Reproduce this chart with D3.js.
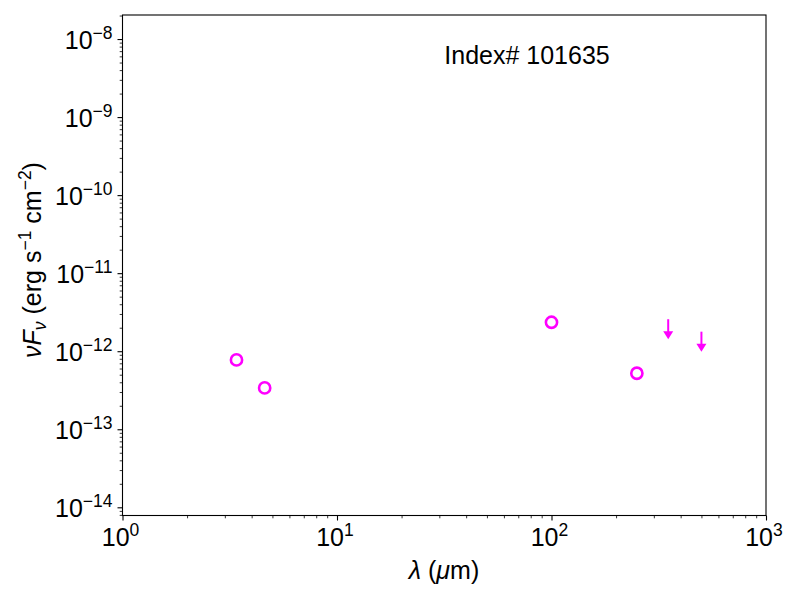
<!DOCTYPE html>
<html>
<head>
<meta charset="utf-8">
<script src="https://cdn.jsdelivr.net/npm/d3@7"></script>
<style>
  body { margin: 0; background: #fff; }
  text { font-family: "Liberation Sans", Arial, sans-serif; fill: #000; }
</style>
</head>
<body>
<div id="chart"></div>
<script>
// Data (wavelength in micron, nuFnu in erg/s/cm2)
var detWave = [3.4, 4.6, 100, 250];
var detFlux = [7.74e-13, 3.39e-13, 2.35e-12, 5.22e-13];
var limWave = [350, 500];
var limFlux = [2.57e-12, 1.78e-12];

var xMajor = [1, 10, 100, 1000];
var yMajor = [1e-14, 1e-13, 1e-12, 1e-11, 1e-10, 1e-9, 1e-8];
var xExp = [0, 1, 2, 3];
var yExp = [-14, -13, -12, -11, -10, -9, -8];

var title = "Index# 101635";
var col = "#ff00ff";

//Setup
var width = 800, height = 600;
var margin = { top: 15, right: 34, bottom: 84.5, left: 122.5 };
var plotW = width - margin.left - margin.right,
    plotH = height - margin.top - margin.bottom;

var x = d3.scaleLog().domain([1, 1000]).range([0, plotW]);
var y = d3.scaleLog().domain([Math.pow(10, -14.105), Math.pow(10, -7.692)]).range([plotH, 0]);

var svg = d3.select("#chart")
    .append("svg")
    .attr("width", width)
    .attr("height", height);

var g = svg.append("g")
    .attr("transform", "translate(" + margin.left + ", " + margin.top + ")");

// minor ticks
function minors(lo, hi) {
    var out = [];
    for (var e = lo; e < hi; e++) {
        for (var k = 2; k < 10; k++) out.push(k * Math.pow(10, e));
    }
    return out;
}
var xMinor = minors(0, 3);
var yMinor = minors(-15, -7).filter(d => d >= y.domain()[0] && d <= y.domain()[1]);

function styleAxis(sel, w) {
    sel.select(".domain").remove();
    sel.selectAll(".tick line").attr("stroke", "#000").attr("stroke-width", w);
}

g.append("g")
    .attr("transform", `translate(0, ${plotH})`)
    .call(d3.axisBottom(x).tickValues(xMinor).tickSize(2.8).tickFormat(() => ""))
    .call(s => styleAxis(s, 0.8));
g.append("g")
    .attr("transform", `translate(0, ${plotH})`)
    .call(d3.axisBottom(x).tickValues(xMajor).tickSize(5).tickFormat(() => ""))
    .call(s => styleAxis(s, 1.1));
g.append("g")
    .call(d3.axisLeft(y).tickValues(yMinor).tickSize(2.8).tickFormat(() => ""))
    .call(s => styleAxis(s, 0.8));
g.append("g")
    .call(d3.axisLeft(y).tickValues(yMajor).tickSize(5).tickFormat(() => ""))
    .call(s => styleAxis(s, 1.1));

// tick labels
xMajor.forEach(function (v, i) {
    var t = g.append("text")
        .attr("x", x(v) - 2)
        .attr("y", plotH + 30)
        .attr("text-anchor", "middle")
        .style("font-size", "25px");
    t.append("tspan").text("10");
    t.append("tspan").attr("dy", -10).style("font-size", "17.5px").text(xExp[i]);
});
yMajor.forEach(function (v, i) {
    var t = g.append("text")
        .attr("x", -10)
        .attr("y", y(v) + 10)
        .attr("text-anchor", "end")
        .style("font-size", "25px");
    t.append("tspan").text("10");
    t.append("tspan").attr("dy", -10).style("font-size", "17.5px")
        .text(yExp[i] < 0 ? "\u2212" + (-yExp[i]) : yExp[i]);
});

// frame
g.append("rect")
    .attr("width", plotW)
    .attr("height", plotH)
    .attr("fill", "none")
    .attr("stroke", "#000")
    .attr("stroke-width", 1.1);

// detections
g.selectAll(".det")
    .data(detWave)
    .enter().append("circle")
    .attr("class", "det")
    .attr("cx", (d, i) => x(d))
    .attr("cy", (d, i) => y(detFlux[i]))
    .attr("r", 5.6)
    .attr("fill", "none")
    .attr("stroke", col)
    .attr("stroke-width", 2.6);

// upper limits
var arrowLen = 20, headH = 8, headW = 10;
limWave.forEach(function (w, i) {
    var cx = x(w), cy = y(limFlux[i]);
    g.append("line")
        .attr("x1", cx).attr("x2", cx)
        .attr("y1", cy).attr("y2", cy + arrowLen - headH + 1)
        .attr("stroke", col)
        .attr("stroke-width", 2);
    g.append("path")
        .attr("d", `M${cx - headW / 2},${cy + arrowLen - headH} L${cx + headW / 2},${cy + arrowLen - headH} L${cx},${cy + arrowLen} Z`)
        .attr("fill", col);
});

// title text inside plot
svg.append("text")
    .attr("x", 527)
    .attr("y", 64)
    .attr("text-anchor", "middle")
    .style("font-size", "25px")
    .text(title);

// x label
var xl = svg.append("text")
    .attr("x", 444)
    .attr("y", 579)
    .attr("text-anchor", "middle")
    .style("font-size", "25px");
xl.append("tspan").style("font-style", "italic").text("\u03bb");
xl.append("tspan").text(" (");
xl.append("tspan").style("font-style", "italic").text("\u03bc");
xl.append("tspan").text("m)");

// y label
var yl = svg.append("text")
    .attr("transform", "translate(41, 260) rotate(-90)")
    .attr("text-anchor", "middle")
    .style("font-size", "25px");
yl.append("tspan").style("font-style", "italic").text("\u03bdF");
yl.append("tspan").attr("dy", 5).style("font-style", "italic").style("font-size", "17.5px").text("\u03bd");
yl.append("tspan").attr("dy", -5).text(" (erg s");
yl.append("tspan").attr("dy", -10).style("font-size", "17.5px").text("\u22121");
yl.append("tspan").attr("dy", 10).text(" cm");
yl.append("tspan").attr("dy", -10).style("font-size", "17.5px").text("\u22122");
yl.append("tspan").attr("dy", 10).text(")");
</script>
</body>
</html>
